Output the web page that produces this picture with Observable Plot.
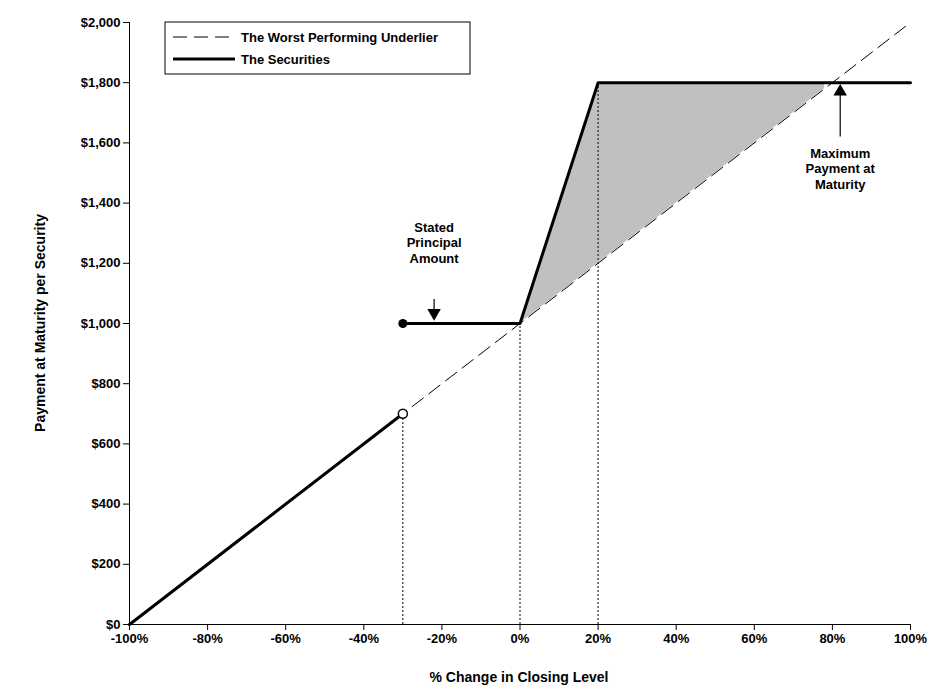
<!DOCTYPE html>
<html><head><meta charset="utf-8">
<script src="https://cdn.jsdelivr.net/npm/d3@7"></script>
<script src="https://cdn.jsdelivr.net/npm/@observablehq/plot@0.6"></script>
<style>body{margin:0;background:#fff}</style>
</head><body><div id="c"></div>
<script>
const underlier = [{x:-100,y:0},{x:100,y:2000}];
const secLow = [{x:-100,y:0},{x:-30,y:700}];
const secHigh = [{x:-30,y:1000},{x:0,y:1000},{x:20,y:1800},{x:100,y:1800}];
const shade = [{x:0,lo:1000,hi:1000},{x:20,lo:1200,hi:1800},{x:78,lo:1780,hi:1800}];
const drops = [{x:-30,y:700},{x:0,y:1000},{x:20,y:1800}];
const xTicks = [-100,-80,-60,-40,-20,0,20,40,60,80,100];
const yTicks = [0,200,400,600,800,1000,1200,1400,1600,1800,2000];
const notes = [{x:-22,y:1270,t:"Stated\nPrincipal\nAmount",ay1:1080,ay2:1035,rot:180},
               {x:82,y:1515,t:"Maximum\nPayment at\nMaturity",ay1:1620,ay2:1770,rot:0}];
const chart = Plot.plot({
  width:929,height:699,marginLeft:129,marginRight:19,marginTop:22,marginBottom:75,
  style:{fontFamily:"Liberation Sans, Arial",fontSize:"13px",fontWeight:"bold",color:"#000"},
  x:{domain:[-100,100],ticks:xTicks,tickFormat:d=>d+"%",label:null,tickSize:6},
  y:{domain:[0,2000],ticks:yTicks,tickFormat:d=>"$"+d3.format(",")(d),label:null,tickSize:6},
  marks:[
    Plot.areaY(shade,{x:"x",y1:"lo",y2:"hi",fill:"#c0c0c0"}),
    Plot.ruleX(drops,{x:"x",y1:0,y2:"y",strokeDasharray:"2,2",strokeWidth:1}),
    Plot.line(underlier,{x:"x",y:"y",strokeDasharray:"14,7",strokeWidth:1}),
    Plot.line(secLow,{x:"x",y:"y",strokeWidth:3}),
    Plot.line(secHigh,{x:"x",y:"y",strokeWidth:3}),
    Plot.dot([secHigh[0]],{x:"x",y:"y",r:4.5,fill:"#000"}),
    Plot.dot([secLow[1]],{x:"x",y:"y",r:4.5,fill:"#fff",stroke:"#000"}),
    Plot.text(notes,{x:"x",y:"y",text:"t",lineHeight:1.2,fontSize:13}),
    Plot.ruleX(notes,{x:"x",y1:"ay1",y2:"ay2",strokeWidth:1.2}),
    Plot.dot(notes,{x:"x",y:"ay2",symbol:"triangle",r:5,fill:"#000",rotate:"rot"}),
    Plot.ruleX([-100],{stroke:"#000"}),
    Plot.ruleY([0],{stroke:"#000"})
  ]
});
document.getElementById("c").appendChild(chart);
const svg = d3.select(chart);
svg.append("text").attr("x",519).attr("y",682).attr("text-anchor","middle").attr("font-size",14).attr("font-weight","bold").text("% Change in Closing Level");
svg.append("text").attr("transform","translate(45,323) rotate(-90)").attr("text-anchor","middle").attr("font-size",14).attr("font-weight","bold").text("Payment at Maturity per Security");
const g = svg.append("g").attr("transform","translate(165,22)");
g.append("rect").attr("width",305).attr("height",52).attr("fill","#fff").attr("stroke","#000");
g.append("line").attr("x1",8).attr("x2",70).attr("y1",15).attr("y2",15).attr("stroke","#000").attr("stroke-dasharray","14,7");
g.append("line").attr("x1",8).attr("x2",70).attr("y1",37).attr("y2",37).attr("stroke","#000").attr("stroke-width",3);
g.append("text").attr("x",76).attr("y",20).attr("text-anchor","start").text("The Worst Performing Underlier").attr("font-size",13).attr("font-weight","bold");
g.append("text").attr("x",76).attr("y",42).attr("text-anchor","start").text("The Securities").attr("font-size",13).attr("font-weight","bold");
</script></body></html>
